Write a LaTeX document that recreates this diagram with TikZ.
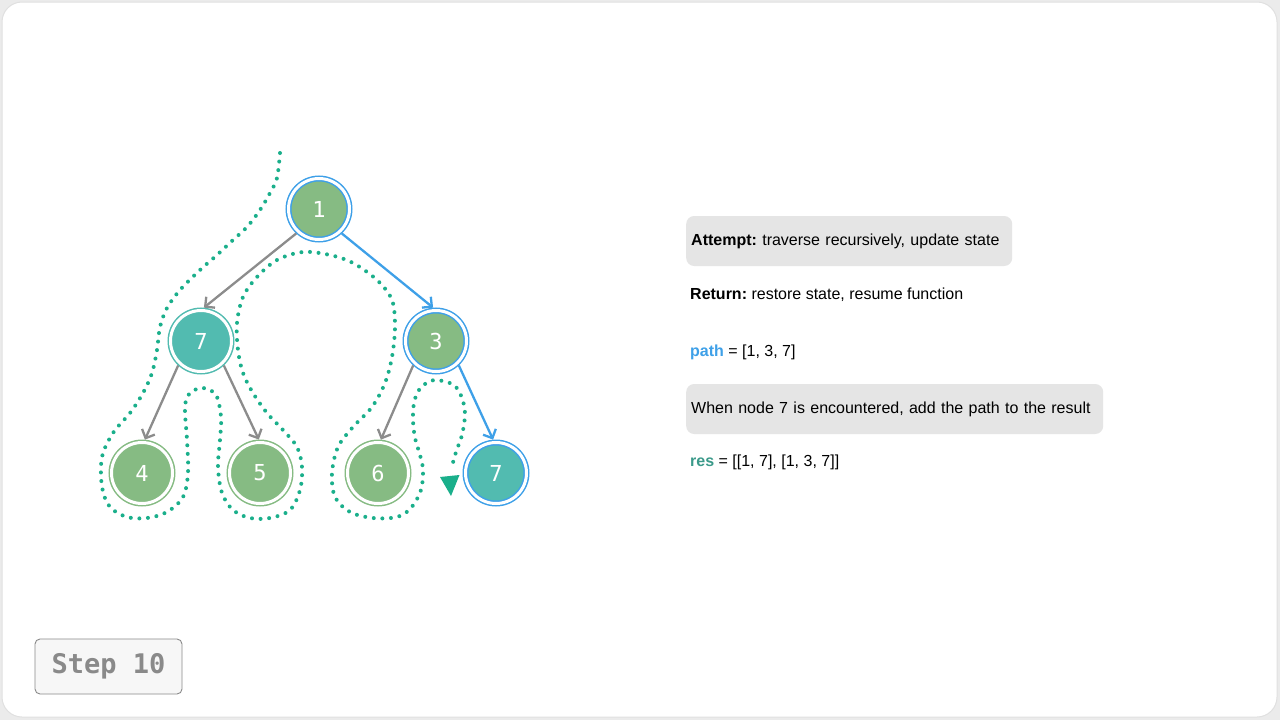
\documentclass[tikz,border=0pt]{standalone}
\usepackage{fontspec}
\setmainfont{Liberation Sans}
\newfontfamily\numfont{DejaVu Sans Mono}
\newfontfamily\stepfont{DejaVu Sans Mono}
\usetikzlibrary{arrows.meta}
\definecolor{bgout}{HTML}{EBEBEB}
\definecolor{leaf}{HTML}{86BB83}
\definecolor{teal}{HTML}{52BBB0}
\definecolor{bluec}{HTML}{3EA0E8}
\definecolor{grayedge}{HTML}{8C8C8C}
\definecolor{dotc}{HTML}{1AAF8B}
\definecolor{boxg}{HTML}{E5E5E5}
\definecolor{resc}{HTML}{3B9A8A}
\definecolor{stepc}{HTML}{8A8A8A}
\definecolor{stepbg}{HTML}{F7F7F7}
\tikzset{
  tnode/.style={circle, minimum size=61pt, inner sep=0pt, outer sep=3pt, text=white,
    line width=1.5pt, double=white, double distance=3pt,
    font=\numfont\fontsize{22}{22}\selectfont},
  gedge/.style={draw=grayedge, line width=2.3pt,
    -{Straight Barb[length=7pt,width=14pt,line width=2.3pt]}},
  bedge/.style={gedge, draw=bluec},
  trail/.style={draw=dotc, line width=4pt, line cap=round, dash pattern=on 0pt off 8.6pt},
  graybox/.style={fill=boxg, rounded corners=8pt, minimum height=50pt, inner xsep=5pt,
    anchor=west, align=left, font=\fontsize{16}{19}\selectfont},
  plaintext/.style={anchor=base west, inner sep=0pt, font=\fontsize{16}{19}\selectfont},
  stepbox/.style={draw=stepc, fill=stepbg, rounded corners=5pt, line width=0.9pt,
    minimum width=147pt, minimum height=55pt, text=stepc,
    font=\stepfont\bfseries\fontsize{27}{27}\selectfont}
}
\begin{document}
\frenchspacing
\begin{tikzpicture}[x=1pt,y=-1pt]
\useasboundingbox (0,0) rectangle (1280,720);
\fill[bgout] (0,0) rectangle (1280,720);
\fill[white, draw=black!12, line width=1pt, rounded corners=20pt] (2,2) rectangle (1277,717);

% tree nodes
\node[tnode, fill=leaf, draw=bluec] (n1) at (319,209) {1};
\node[tnode, fill=teal, draw=teal] (n7a) at (201,341) {7};
\node[tnode, fill=leaf, draw=bluec] (n3) at (436,341) {3};
\node[tnode, fill=leaf, draw=leaf] (n4) at (142,473) {4};
\node[tnode, fill=leaf, draw=leaf] (n5) at (260,473) {5};
\node[tnode, fill=leaf, draw=leaf] (n6) at (378,473) {6};
\node[tnode, fill=teal, draw=bluec] (n7b) at (496,473) {7};

% edges
\draw[gedge] (n1.-133) -- (n7a.85);
\draw[bedge] (n1.-47) -- (n3.95);
\draw[gedge] (n7a.-133) -- (n4.85);
\draw[gedge] (n7a.-47) -- (n5.92);
\draw[gedge] (n3.-133) -- (n6.85);
\draw[bedge] (n3.-47) -- (n7b.95);

% traversal trail
\coordinate (tstart) at (280,153);
\coordinate (tend) at (451,470);
\draw[trail] plot[smooth, tension=0.55] coordinates {
(tstart) (277,178) (270,193) (260,210) (247,227) (233,240) (217,255) (200,270)
(180,290) (167,308) (160,327) (157,350) (152,373) (143,393) (130,413) (113,433)
(102,457) (102,487) (110,507) (127,517) (147,518) (167,512) (183,497) (188,473)
(187,440) (185,407) (190,393) (203,388) (216,395) (221,417) (220,440) (218,467)
(222,493) (233,510) (250,518) (270,518) (290,510) (300,490) (302,467) (297,447)
(283,430) (267,413) (253,393) (243,373) (238,350) (237,323) (243,297) (257,277)
(277,260) (303,252) (330,255) (353,263) (377,280) (392,300) (395,327) (392,357)
(385,383) (372,407) (353,427) (338,447) (332,473) (335,497) (350,512) (373,518)
(397,517) (411,508) (421,490) (423,470) (420,455) (415,438) (413,420) (414,403)
(419,390) (430,381) (443,381) (455,386) (462,398) (465,414) (462,435) (456,452)
(tend)};
\fill[dotc] (440,477) -- (459.5,475) -- (451,496) -- cycle;

% right panel
\node[graybox, minimum width=326pt, text width=316pt] (b1) at (686,241)
  {\textbf{Attempt:} traverse recursively, update state};
\node[plaintext] (t2) at (690,299) {\textbf{Return:} restore state, resume function};
\node[plaintext] (t3) at (690,356) {\textcolor{bluec}{\textbf{path}} = [1, 3, 7]};
\node[graybox, minimum width=417pt, text width=407pt] (b2) at (686,409)
  {When node 7 is encountered, add the path to the result};
\node[plaintext] (t4) at (690,466) {\textcolor{resc}{\textbf{res}} = [[1, 7], [1, 3, 7]]};

% step label
\node[stepbox] (step) at (108.5,666.5) {Step 10};
\end{tikzpicture}
\end{document}
